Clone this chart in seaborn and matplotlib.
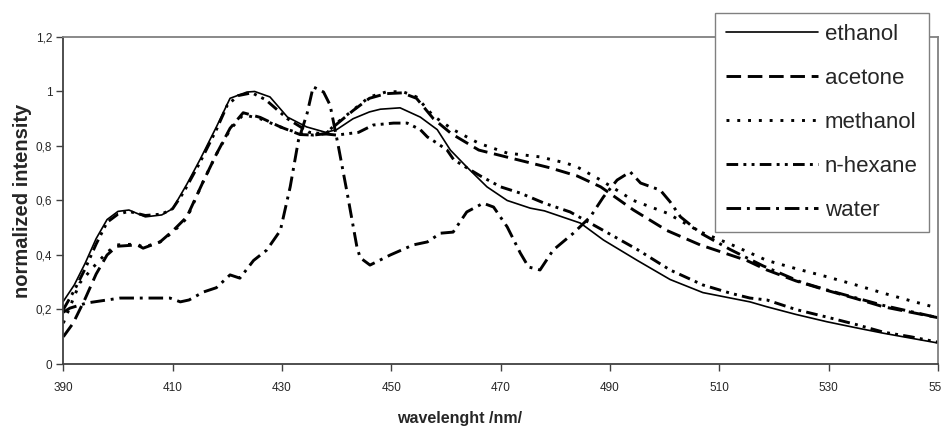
import numpy as np
import pandas as pd
import matplotlib
matplotlib.use("Agg")
import matplotlib.pyplot as plt
import seaborn as sns

# Emission spectra
ethanol_nm = [390, 392, 394, 396, 398, 400, 402, 405, 408, 410, 412.6, 415, 418, 420.5, 423.6, 425, 427.8,
              431, 434.5, 438, 440, 443, 446, 448, 451.6, 455.3, 458.4, 460.8, 463.8, 467.5, 471.2, 475.4,
              478, 484.6, 488.8, 495, 501, 507, 515.6, 518.7, 524, 529.7, 535, 540, 545, 550]
ethanol_int = [0.23, 0.29, 0.37, 0.46, 0.53, 0.56, 0.565, 0.54, 0.547, 0.57, 0.66, 0.75, 0.87, 0.975, 0.998, 1.0, 0.98,
               0.906, 0.87, 0.85, 0.86, 0.9, 0.925, 0.935, 0.94, 0.906, 0.86, 0.785, 0.723, 0.65, 0.6, 0.572,
               0.562, 0.517, 0.455, 0.38, 0.31, 0.262, 0.228, 0.21, 0.182, 0.155, 0.133, 0.113, 0.095, 0.077]

acetone_nm = [390, 391.8, 394, 396, 398, 399.8, 403.5, 404.6, 407.7, 410.1, 412.6, 415.6, 418, 420.5, 422.9,
              426, 429.7, 433.3, 435.7, 438, 440, 443, 446, 449, 452, 454.6, 457.7, 461, 466, 473, 479, 484,
              488.3, 494.3, 500.4, 506.5, 515, 518.7, 524, 529.7, 535, 540, 545, 550]
acetone_int = [0.1, 0.15, 0.24, 0.33, 0.4, 0.432, 0.437, 0.425, 0.448, 0.49, 0.54, 0.67, 0.77, 0.865, 0.922,
               0.905, 0.87, 0.842, 0.84, 0.845, 0.88, 0.93, 0.975, 0.992, 0.995, 0.975, 0.9, 0.845, 0.785, 0.75,
               0.72, 0.69, 0.65, 0.565, 0.49, 0.437, 0.38, 0.345, 0.305, 0.27, 0.24, 0.21, 0.19, 0.17]

methanol_nm = [390, 393, 395.5, 398, 399.8, 403.5, 404.6, 407.7, 410.1, 412.6, 415.6, 418, 420.5, 422.9, 426,
               429.7, 433.3, 435.7, 438, 440, 443, 446, 449, 452, 454.6, 457.7, 461.3, 466, 471.2, 477.2, 482,
               484, 488.3, 494.3, 500.4, 506.5, 512, 518.7, 524, 529.7, 535, 540, 545, 550]
methanol_int = [0.15, 0.297, 0.356, 0.41, 0.437, 0.44, 0.428, 0.448, 0.485, 0.535, 0.67, 0.77, 0.86, 0.915, 0.9,
                0.87, 0.845, 0.84, 0.845, 0.884, 0.932, 0.98, 0.998, 1.0, 0.98, 0.91, 0.86, 0.81, 0.774, 0.76,
                0.737, 0.723, 0.675, 0.6, 0.554, 0.485, 0.44, 0.38, 0.35, 0.32, 0.29, 0.26, 0.232, 0.205]

hexane_nm = [390, 392, 394, 396, 398, 400, 402, 405, 408, 410, 412, 415, 418, 420, 422, 424.5, 427, 431, 435,
             440, 444, 446.7, 450.4, 452.9, 455.3, 456.6, 458.4, 460.2, 461.4, 463.8, 466.3, 470, 473.6, 478,
             482.7, 488.8, 495, 501, 507, 512, 515.6, 518.7, 524, 529.7, 535, 540, 545, 550]
hexane_int = [0.2, 0.27, 0.35, 0.44, 0.52, 0.55, 0.56, 0.545, 0.55, 0.57, 0.63, 0.74, 0.86, 0.95, 0.985, 0.995,
              0.97, 0.9, 0.85, 0.84, 0.85, 0.877, 0.884, 0.884, 0.86, 0.833, 0.81, 0.785, 0.75, 0.72, 0.69, 0.65,
              0.627, 0.59, 0.558, 0.49, 0.42, 0.345, 0.29, 0.26, 0.242, 0.235, 0.2, 0.172, 0.145, 0.117, 0.1, 0.08]

water_nm = [390, 391.2, 394.3, 400.4, 409.5, 411.4, 413, 415.6, 418, 420.5, 422.3, 424.8, 427.2, 429.7, 431.5,
            433, 434.6, 435.7, 437.6, 438.8, 440.3, 441.9, 442.8, 443.7, 444.3, 446.1, 449.8, 454, 456.6, 459,
            461.3, 463.8, 466.8, 468.7, 471.2, 473.6, 475.1, 477.2, 479.6, 483.3, 486.4, 488.8, 491.3, 493.7,
            495.6, 499.2, 501, 502.9, 506.6, 512, 518, 525, 530, 540, 550]
water_int = [0.19, 0.205, 0.224, 0.242, 0.242, 0.228, 0.235, 0.264, 0.28, 0.327, 0.315, 0.38, 0.418, 0.49, 0.65,
             0.82, 0.92, 1.017, 0.998, 0.95, 0.8, 0.63, 0.53, 0.43, 0.39, 0.363, 0.4, 0.437, 0.448, 0.48,
             0.484, 0.558, 0.59, 0.576, 0.503, 0.407, 0.356, 0.345, 0.418, 0.48, 0.54, 0.613, 0.675, 0.705,
             0.664, 0.638, 0.595, 0.54, 0.48, 0.42, 0.36, 0.3, 0.27, 0.215, 0.17]

series = [
    ("ethanol", ethanol_nm, ethanol_int),
    ("acetone", acetone_nm, acetone_int),
    ("methanol", methanol_nm, methanol_int),
    ("n-hexane", hexane_nm, hexane_int),
    ("water", water_nm, water_int),
]

x_ticks = [390, 410, 430, 450, 470, 490, 510, 530, 550]
y_ticks = [0, 0.2, 0.4, 0.6, 0.8, 1.0, 1.2]
y_tick_labels = ["0", "0,2", "0,4", "0,6", "0,8", "1", "1,2"]

# Line styles (Excel-like)
styles = {
    "ethanol": dict(linestyle="-", linewidth=1.2),
    "acetone": dict(linestyle=(0, (5, 2.3)), linewidth=2.1),
    "methanol": dict(linestyle=(0, (1, 2.7)), linewidth=2.1),
    "n-hexane": dict(linestyle=(0, (4, 1.8, 1, 1.8, 1, 1.8)), linewidth=2.1),
    "water": dict(linestyle=(0, (5, 2, 1, 2)), linewidth=2.1),
}

df = pd.concat([pd.DataFrame({"wavelength": nm, "intensity": val, "solvent": name})
                for name, nm, val in series], ignore_index=True)

sns.set_style("ticks")
plt.rcParams["font.family"] = ["Liberation Sans", "DejaVu Sans"]

fig = plt.figure(figsize=(9.41, 4.32), dpi=100)
ax = fig.add_axes([0.0673, 0.1574, 0.9295, 0.757])

for name, nm, val in series:
    sub = df[df["solvent"] == name]
    sns.lineplot(data=sub, x="wavelength", y="intensity", ax=ax, color="black",
                 label=name, legend=False, estimator=None, sort=True, **styles[name])

ax.set_xlim(390, 550)
ax.set_ylim(0, 1.2)
ax.set_xticks(x_ticks)
ax.set_yticks(y_ticks)
ax.set_yticklabels(y_tick_labels)
ax.tick_params(axis="both", labelsize=8.5, length=5, width=1, color="#404040")
ax.tick_params(axis="x", pad=8)
ax.tick_params(axis="y", pad=3)
for sp in ax.spines.values():
    sp.set_color("#808080")
    sp.set_linewidth(1.3)
ax.spines["left"].set_color("#404040")
ax.spines["bottom"].set_color("#404040")

ax.set_xlabel("wavelenght /nm/", fontsize=11.5, fontweight="bold", va="center")
ax.xaxis.set_label_coords(0.453, -0.168)
ax.set_ylabel("normalized intensity", fontsize=14.5, fontweight="bold", va="center")
ax.yaxis.set_label_coords(-0.047, 0.5)

handles, labels = ax.get_legend_handles_labels()
leg = fig.legend(handles, labels, loc="upper left", bbox_to_anchor=(715 / 941, 1 - 13 / 432),
                 borderaxespad=0, fontsize=16, handlelength=4.15, handletextpad=0.3, labelspacing=1.03,
                 borderpad=0.5, frameon=True, fancybox=False, framealpha=1, edgecolor="#808080")
leg.get_frame().set_linewidth(1.0)

fig.savefig("out.png", dpi=100)
